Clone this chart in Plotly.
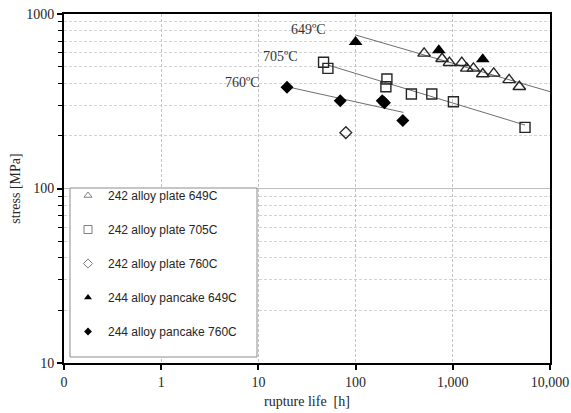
import numpy as np
import plotly.graph_objects as go

# ---------------- data ----------------
plate649_x = [507, 776, 923, 1237, 1393, 1629, 2033, 2637, 3793, 4838]
plate649_y = [595, 554, 526, 526, 488, 488, 453, 457, 419, 383]

plate705_x = [46.8, 51.9, 210, 205, 375, 608, 1014, 5534]
plate705_y = [529, 488, 424, 383, 348, 348, 314, 224]

plate760_x = [79.4]
plate760_y = [209]

pancake649_x = [100, 718, 2033]
pancake649_y = [690, 620, 550]

pancake760_x = [19.7, 69.5, 188, 198, 306]
pancake760_y = [380, 318, 318, 310, 245]

fit649_x = [100, 10000]
fit649_y = [758, 359]
fit705_x = [51.9, 5534]
fit705_y = [510, 231]
fit760_x = [19.7, 310]
fit760_y = [383, 273]

labels = ["649ºC", "705ºC", "760ºC"]
label_x = [32.6, 16.8, 6.78]
label_y = [820, 574, 404]

legend_names = ["242 alloy plate 649C", "242 alloy plate 705C", "242 alloy plate 760C",
                "244 alloy pancake 649C", "244 alloy pancake 760C"]

x_tickvals = [0.1, 1, 10, 100, 1000, 10000]
x_ticktext = ["0", "1", "10", "100", "1,000", "10,000"]
y_tickvals = [10, 100, 1000]
y_ticktext = ["10", "100", "1000"]

SERIF = "Liberation Serif"
SANS = "Liberation Sans"
DARK = "#262626"

fig = go.Figure()

# fit lines
for fx, fy in [(fit649_x, fit649_y), (fit705_x, fit705_y), (fit760_x, fit760_y)]:
    fig.add_trace(go.Scatter(x=fx, y=fy, mode="lines", showlegend=False,
                             line=dict(color="#6e6e6e", width=1), hoverinfo="skip"))

open_line = dict(color="#262626", width=1.4)
fig.add_trace(go.Scatter(x=plate649_x, y=plate649_y, mode="markers", showlegend=False,
                         marker=dict(symbol="triangle-up-open", size=11, line=open_line, color="#262626")))
fig.add_trace(go.Scatter(x=plate705_x, y=plate705_y, mode="markers", showlegend=False,
                         marker=dict(symbol="square-open", size=10, line=open_line, color="#262626")))
fig.add_trace(go.Scatter(x=plate760_x, y=plate760_y, mode="markers", showlegend=False,
                         marker=dict(symbol="diamond-open", size=9, line=open_line, color="#262626")))
fig.add_trace(go.Scatter(x=pancake649_x, y=pancake649_y, mode="markers", showlegend=False,
                         marker=dict(symbol="triangle-up", size=12, color="black")))
fig.add_trace(go.Scatter(x=pancake760_x, y=pancake760_y, mode="markers", showlegend=False,
                         marker=dict(symbol="diamond", size=10, color="black")))

# legend-only entries (small markers as in reference legend)
leg_styles = [
    dict(symbol="triangle-up-open", size=7, color="#7f7f7f", line=dict(color="#7f7f7f", width=1)),
    dict(symbol="square-open", size=8, color="#7f7f7f", line=dict(color="#7f7f7f", width=1)),
    dict(symbol="diamond-open", size=7, color="#7f7f7f", line=dict(color="#7f7f7f", width=1)),
    dict(symbol="triangle-up", size=7, color="black"),
    dict(symbol="diamond", size=6, color="black"),
]
for i, (nm, st) in enumerate(zip(legend_names, leg_styles)):
    fig.add_trace(go.Scatter(x=[None], y=[None], mode="markers", name=nm, marker=st,
                             legendgroup=f"g{i}", showlegend=True))

for t, lx, ly in zip(labels, label_x, label_y):
    fig.add_annotation(x=np.log10(lx), y=np.log10(ly), xref="x", yref="y", text=t,
                       showarrow=False, font=dict(family=SERIF, size=14, color="#333333"))

L, R, T, B = 64, 21, 14, 50
W, H = 571, 413
pw, ph = W - L - R, H - T - B

def px_to_paper_x(px):
    return (px - L) / pw

def px_to_paper_y(py):
    return (H - B - py) / ph

# legend box
fig.add_shape(type="rect", xref="paper", yref="paper",
              x0=px_to_paper_x(70), x1=px_to_paper_x(257),
              y0=px_to_paper_y(357), y1=px_to_paper_y(188),
              line=dict(color="#8c8c8c", width=1), fillcolor="white", layer="above")

fig.update_layout(
    width=W, height=H,
    margin=dict(l=L, r=R, t=T, b=B, autoexpand=False),
    paper_bgcolor="white", plot_bgcolor="white",
    font=dict(family=SERIF, size=14, color=DARK),
    showlegend=True,
    legend=dict(x=px_to_paper_x(68), y=px_to_paper_y(181), xanchor="left", yanchor="top",
                bgcolor="rgba(0,0,0,0)", borderwidth=0, tracegroupgap=15,
                traceorder="grouped",
                font=dict(family=SANS, size=12, color=DARK)),
)

GRID_DASH = "3px,2px"

fig.update_xaxes(
    type="log", range=[-1, 4],
    tickvals=x_tickvals, ticktext=x_ticktext,
    showline=True, linecolor="black", linewidth=2, mirror=True,
    ticks="outside", ticklen=5, tickcolor="black", tickwidth=1.5,
    showgrid=True, gridcolor="#c4c4c4", griddash=GRID_DASH, gridwidth=1,
    zeroline=False,
    tickfont=dict(family=SERIF, size=14, color=DARK),
    title=dict(text="rupture life  [h]", font=dict(family=SERIF, size=14, color=DARK), standoff=7),
)

fig.update_yaxes(
    type="log", range=[1, 3],
    tickvals=y_tickvals, ticktext=y_ticktext,
    showline=True, linecolor="black", linewidth=2, mirror=True,
    ticks="outside", ticklen=5, tickcolor="black", tickwidth=1.5,
    showgrid=True, gridcolor="#bdbdbd", gridwidth=1,
    zeroline=False,
    minor=dict(ticks="outside", ticklen=4, tickcolor="black", tickwidth=1.2,
               tickvals=[20, 30, 40, 50, 60, 70, 80, 90, 200, 300, 400, 500, 600, 700, 800, 900],
               showgrid=True, gridcolor="#d2d2d2", griddash=GRID_DASH, gridwidth=1),
    tickfont=dict(family=SERIF, size=14, color=DARK),
    title=dict(text="stress [MPa]", font=dict(family=SERIF, size=14, color=DARK), standoff=2),
)

fig.write_html("out.html")
